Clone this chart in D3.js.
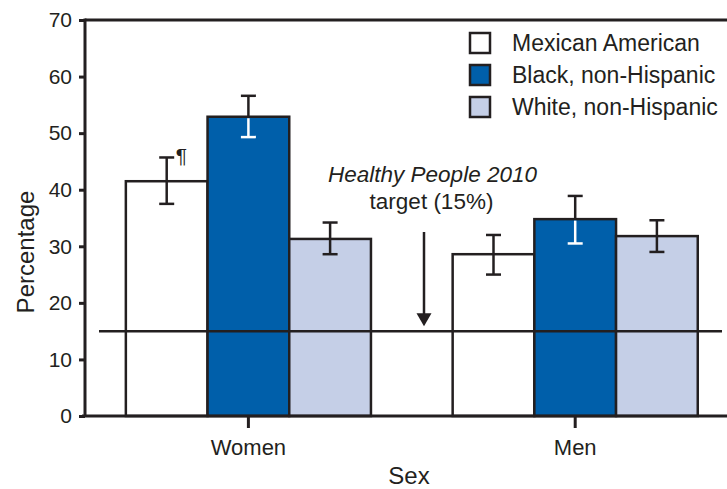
<!DOCTYPE html>
<html>
<head>
<meta charset="utf-8">
<script src="https://cdn.jsdelivr.net/npm/d3@7"></script>
<style>
  html, body { margin: 0; padding: 0; background: #fff; }
  svg { display: block; font-family: "Liberation Sans", Arial, Helvetica, sans-serif; }
</style>
</head>
<body>
<svg id="chart" width="727" height="489"></svg>
<script>
// Obesity prevalence by sex and race/ethnicity, with 95% confidence intervals
const groups = ["Women", "Men"];
const series = ["Mexican American", "Black, non-Hispanic", "White, non-Hispanic"];
const seriesColors = ["#ffffff", "#005faa", "#c5cfe7"];

const mexicanAmerican = [41.5, 28.6];
const blackNonHispanic = [52.9, 34.8];
const whiteNonHispanic = [31.3, 31.8];

const mexicanAmericanLow  = [37.5, 25.0];
const mexicanAmericanHigh = [45.7, 32.0];
const blackNonHispanicLow  = [49.3, 30.5];
const blackNonHispanicHigh = [56.6, 38.9];
const whiteNonHispanicLow  = [28.6, 29.0];
const whiteNonHispanicHigh = [34.2, 34.6];

const yTicks = [0, 10, 20, 30, 40, 50, 60, 70];
const targetValue = 15;
const targetLabel = ["Healthy People 2010", "target (15%)"];
const footnoteMark = "¶";

const values = [mexicanAmerican, blackNonHispanic, whiteNonHispanic];
const lows = [mexicanAmericanLow, blackNonHispanicLow, whiteNonHispanicLow];
const highs = [mexicanAmericanHigh, blackNonHispanicHigh, whiteNonHispanicHigh];

const rows = [];
groups.forEach((g, gi) => {
  series.forEach((s, si) => {
    rows.push({ group: g, series: s, si, value: values[si][gi], lo: lows[si][gi], hi: highs[si][gi] });
  });
});

const ink = "#231f20";
const svg = d3.select("#chart");
const plotLeft = 85, plotTop = 20, plotBottom = 416, plotRight = 727;

const y = d3.scaleLinear().domain([0, 70]).range([plotBottom, plotTop]);
const x0 = d3.scaleBand().domain(groups).range([plotLeft, 738.6]).paddingInner(0.25).paddingOuter(0.125);
const x1 = d3.scaleBand().domain(series).range([0, x0.bandwidth()]).padding(0);
const color = d3.scaleOrdinal().domain(series).range(seriesColors);

// Bars
const barG = svg.append("g");
barG.selectAll("rect")
  .data(rows)
  .join("rect")
  .attr("x", d => x0(d.group) + x1(d.series))
  .attr("y", d => y(d.value))
  .attr("width", x1.bandwidth())
  .attr("height", d => y(0) - y(d.value))
  .attr("fill", d => color(d.series))
  .attr("stroke", ink)
  .attr("stroke-width", 2.5);

// Target reference line
svg.append("line")
  .attr("x1", 99).attr("x2", 722)
  .attr("y1", y(targetValue)).attr("y2", y(targetValue))
  .attr("stroke", ink).attr("stroke-width", 2.5);

// Error bars: white where they sit on the dark bars
const capHalf = 7.5;
const errG = svg.append("g").attr("stroke-width", 2.5).attr("fill", "none");
rows.forEach(d => {
  const cx = x0(d.group) + x1(d.series) + x1.bandwidth() / 2;
  const lowColor = d.si === 1 ? "#ffffff" : ink;
  errG.append("line").attr("x1", cx).attr("x2", cx)
    .attr("y1", y(d.hi)).attr("y2", y(d.value)).attr("stroke", ink);
  errG.append("line").attr("x1", cx - capHalf).attr("x2", cx + capHalf)
    .attr("y1", y(d.hi)).attr("y2", y(d.hi)).attr("stroke", ink);
  errG.append("line").attr("x1", cx).attr("x2", cx)
    .attr("y1", y(d.value) + (d.si === 1 ? 1.5 : 0)).attr("y2", y(d.lo)).attr("stroke", lowColor);
  errG.append("line").attr("x1", cx - capHalf).attr("x2", cx + capHalf)
    .attr("y1", y(d.lo)).attr("y2", y(d.lo)).attr("stroke", lowColor);
});

// Footnote mark beside the first error bar
const fm = rows[0];
svg.append("text")
  .attr("x", x0(fm.group) + x1(fm.series) + x1.bandwidth() / 2 + 9)
  .attr("y", y(fm.hi) + 6)
  .attr("font-size", 21)
  .attr("fill", ink)
  .text(footnoteMark);

// Frame lines
svg.append("line").attr("x1", plotLeft).attr("x2", plotRight).attr("y1", plotTop).attr("y2", plotTop)
  .attr("stroke", ink).attr("stroke-width", 3);
svg.append("line").attr("x1", plotLeft).attr("x2", plotLeft).attr("y1", plotTop - 1.5).attr("y2", plotBottom)
  .attr("stroke", ink).attr("stroke-width", 3);
svg.append("line").attr("x1", plotLeft - 3).attr("x2", plotRight).attr("y1", plotBottom).attr("y2", plotBottom)
  .attr("stroke", ink).attr("stroke-width", 3);

// Y axis
const yAxis = svg.append("g")
  .attr("transform", `translate(${plotLeft},0)`)
  .call(d3.axisLeft(y).tickValues(yTicks).tickSize(6).tickPadding(7));
yAxis.select(".domain").remove();
yAxis.selectAll(".tick line").attr("stroke", ink).attr("stroke-width", 3);
yAxis.selectAll(".tick text").attr("fill", ink).attr("font-size", 21)
  .attr("font-family", "'Liberation Sans', Arial, Helvetica, sans-serif");

// X axis
const xAxis = svg.append("g")
  .attr("transform", `translate(0,${plotBottom})`)
  .call(d3.axisBottom(x0).tickSize(12).tickPadding(11));
xAxis.select(".domain").remove();
xAxis.selectAll(".tick line").attr("stroke", ink).attr("stroke-width", 3);
xAxis.selectAll(".tick text").attr("fill", ink).attr("font-size", 22)
  .attr("font-family", "'Liberation Sans', Arial, Helvetica, sans-serif");

// Axis titles
svg.append("text")
  .attr("x", 409).attr("y", 484)
  .attr("text-anchor", "middle").attr("font-size", 24).attr("fill", ink)
  .text("Sex");
svg.append("text")
  .attr("transform", "translate(34,252) rotate(-90)")
  .attr("text-anchor", "middle").attr("font-size", 24).attr("fill", ink)
  .text("Percentage");

// Target annotation and arrow
svg.append("text")
  .attr("x", 432.5).attr("y", 182)
  .attr("text-anchor", "middle").attr("font-size", 22.5).attr("font-style", "italic").attr("fill", ink)
  .text(targetLabel[0]);
svg.append("text")
  .attr("x", 431.5).attr("y", 209)
  .attr("text-anchor", "middle").attr("font-size", 22.5).attr("fill", ink)
  .text(targetLabel[1]);
const ax = 424, tipY = y(targetValue) - 5;
svg.append("line").attr("x1", ax).attr("x2", ax).attr("y1", 232).attr("y2", tipY - 10)
  .attr("stroke", ink).attr("stroke-width", 2.5);
svg.append("path")
  .attr("d", `M${ax - 7.5},${tipY - 13} L${ax + 7.5},${tipY - 13} L${ax},${tipY} Z`)
  .attr("fill", ink);

// Legend
const legend = svg.append("g").attr("transform", "translate(469,32)");
const item = legend.selectAll("g").data(series).join("g")
  .attr("transform", (d, i) => `translate(0,${i * 32})`);
item.append("rect")
  .attr("x", 1).attr("y", 1).attr("width", 20).attr("height", 20)
  .attr("fill", d => color(d)).attr("stroke", ink).attr("stroke-width", 2.5);
item.append("text")
  .attr("x", 43).attr("y", 19)
  .attr("font-size", 23).attr("fill", ink)
  .text(d => d);
</script>
</body>
</html>
